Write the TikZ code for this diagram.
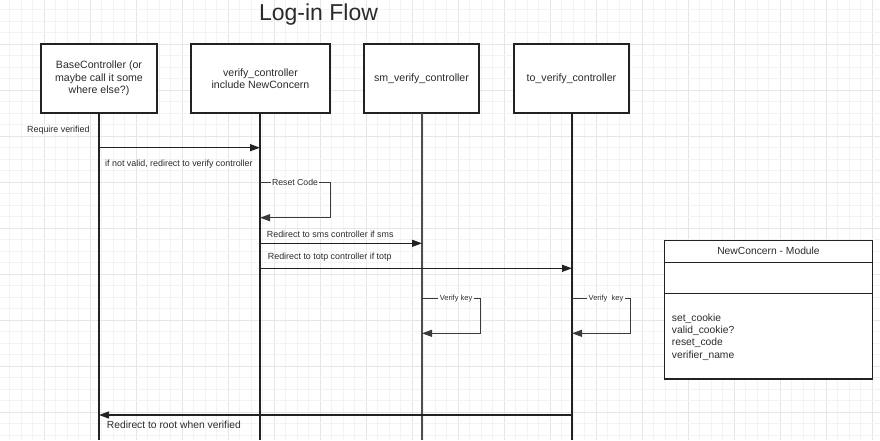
\documentclass[tikz,border=0pt]{standalone}
\usepackage{fontspec}
\setmainfont{Liberation Sans}
\usetikzlibrary{arrows.meta}
\definecolor{ink}{HTML}{222222}
\definecolor{txt}{HTML}{2B2B2B}
\definecolor{gridminor}{HTML}{F3F3F3}
\definecolor{gridmajor}{HTML}{E6E6E6}
\definecolor{loopink}{HTML}{3A3A3A}
\begin{document}
\begin{tikzpicture}[x=1pt,y=-1pt,
  boxnode/.style={draw=ink, line width=1.3pt, fill=white, minimum height=69pt, inner sep=2pt,
    align=center, text=txt, font=\fontsize{10.6}{12.3}\selectfont},
  lifeline/.style={draw=ink, line width=1.2pt},
  msg/.style={draw=ink, line width=1.2pt, -{Triangle[length=10pt,width=7pt]}},
  selfmsg/.style={draw=loopink, line width=1pt, -{Triangle[length=10pt,width=7pt]}},
  lbl/.style={text=txt, inner sep=0pt, font=\fontsize{8.9}{10}\selectfont},
  looplbl/.style={text=txt, fill=white, inner xsep=1.5pt, inner ysep=0.5pt},
  biglbl/.style={text=txt, inner sep=0pt, font=\fontsize{10.3}{12.3}\selectfont}]
\useasboundingbox (0,0) rectangle (880,440);
\fill[white] (0,0) rectangle (880,440);
% grid
\foreach \k in {0,...,76}{
  \pgfmathsetmacro{\gx}{9.8+11.5*\k}
  \pgfmathtruncatemacro{\m}{mod(\k,4)}
  \ifnum\m=3 \draw[gridmajor, line width=0.8pt] (\gx,0) -- (\gx,440);
  \else \draw[gridminor, line width=0.8pt] (\gx,0) -- (\gx,440); \fi
}
\foreach \k in {0,...,37}{
  \pgfmathsetmacro{\gy}{9.5+11.5*\k}
  \pgfmathtruncatemacro{\m}{mod(\k,4)}
  \ifnum\m=3 \draw[gridmajor, line width=0.8pt] (0,\gy) -- (880,\gy);
  \else \draw[gridminor, line width=0.8pt] (0,\gy) -- (880,\gy); \fi
}
% title
\node[text=txt, inner sep=0pt, font=\fontsize{23}{26}\selectfont] (title) at (318.5,14.8) {Log-in Flow};
% participant boxes
\node[boxnode, minimum width=116pt] (b1) at (99,78.5) {BaseController (or\\maybe call it some\\where else?)};
\node[boxnode, minimum width=139pt] (b2) at (260.5,78.5) {verify\_controller\\include NewConcern};
\node[boxnode, minimum width=115pt] (b3) at (421.5,78.5) {sm\_verify\_controller};
\node[boxnode, minimum width=115pt] (b4) at (571.5,78.5) {to\_verify\_controller};
% lifeline end points
\coordinate (e1) at (99,440);
\coordinate (e2) at (260,440);
\coordinate (e3) at (422,440);
\coordinate (e4) at (572,440);
\draw[lifeline] (99,113) -- (e1);
\draw[lifeline] (260,113) -- (e2);
\draw[lifeline, draw=ink!80] (422,113) -- (e3);
\draw[lifeline] (572,113) -- (e4);
% message points
\coordinate (m1s) at (99,147.7);  \coordinate (m1e) at (260,147.7);
\coordinate (r1s) at (260,182.7); \coordinate (r1e) at (260,217.7);
\coordinate (m2s) at (260,243.3); \coordinate (m2e) at (422,243.3);
\coordinate (m3s) at (260,268.3); \coordinate (m3e) at (572,268.3);
\coordinate (v1s) at (422,298.3); \coordinate (v1e) at (422,333.3);
\coordinate (v2s) at (572,298.3); \coordinate (v2e) at (572,333.3);
\coordinate (m4s) at (572,415);   \coordinate (m4e) at (99,415);
% messages
\node[lbl, anchor=west] (l0) at (27,130) {Require verified};
\draw[msg] (m1s) -- (m1e);
\node[lbl, anchor=west] (l1) at (105,164.3) {if not valid, redirect to verify controller};
\draw[selfmsg] (r1s) -- ++(70,0) -- ++(0,35) -- (r1e);
\node[lbl, looplbl, font=\fontsize{8.7}{10}\selectfont] (l2) at (295,182.7) {Reset Code};
\node[lbl, anchor=west] (l3) at (266.7,234) {Redirect to sms controller if sms};
\draw[msg] (m2s) -- (m2e);
\node[lbl, anchor=west] (l4) at (267.7,256.7) {Redirect to totp controller if totp};
\draw[msg] (m3s) -- (m3e);
\draw[selfmsg] (v1s) -- ++(58,0) -- ++(0,35) -- (v1e);
\node[lbl, looplbl, font=\fontsize{7.5}{9}\selectfont] (l5) at (456,298.3) {Verify key};
\draw[selfmsg] (v2s) -- ++(58,0) -- ++(0,35) -- (v2e);
\node[lbl, looplbl, font=\fontsize{7.5}{9}\selectfont] (l6) at (606,298.3) {Verify\ \ key};
\draw[msg] (m4s) -- (m4e);
\node[biglbl, anchor=west] (l7) at (106.7,425) {Redirect to root when verified};
% module class box
\node[draw=ink, line width=1.3pt, fill=white, minimum width=208.4pt, minimum height=138.3pt, inner sep=0pt] (mod) at (768.5,309.85) {};
\coordinate (d1a) at (664.3,262.7); \coordinate (d1b) at (872.7,262.7);
\coordinate (d2a) at (664.3,293.3); \coordinate (d2b) at (872.7,293.3);
\draw[ink, line width=1pt] (d1a) -- (d1b);
\draw[ink, line width=1.3pt] (d2a) -- (d2b);
\node[biglbl] (modt) at (768.5,251.3) {NewConcern - Module};
\node[biglbl, anchor=north west, align=left] (modm) at (671.7,313.5) {set\_cookie\\valid\_cookie?\\reset\_code\\verifier\_name};
\end{tikzpicture}
\end{document}
